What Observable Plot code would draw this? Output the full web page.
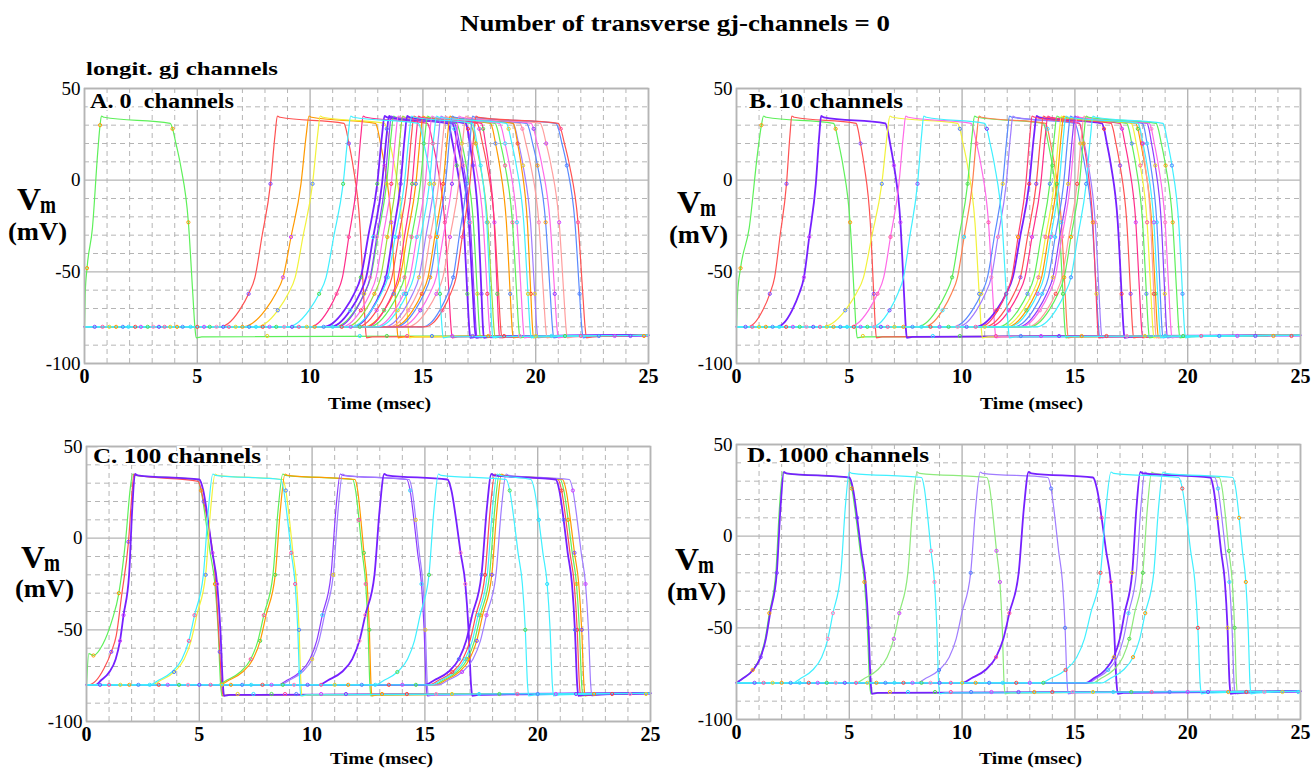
<!DOCTYPE html>
<html><head><meta charset="utf-8">
<script src="https://cdn.jsdelivr.net/npm/d3@7"></script>
<script src="https://cdn.jsdelivr.net/npm/@observablehq/plot@0.6"></script>
<style>
body{margin:0;background:#fff;}
#wrap{position:relative;width:1312px;height:771px;overflow:hidden;background:#fff;font-family:'Liberation Serif','Times New Roman',serif;}
.panel{position:absolute;}
.panel svg{background:transparent !important;}
#overlay{position:absolute;left:0;top:0;pointer-events:none;}
</style></head><body><div id="wrap"></div>
<script>
// ---------- axes ----------
const xTicks = [0, 5, 10, 15, 20, 25];
const yTicks = [-100, -50, 0, 50];

// ---------- AP shape templates: [fraction of phase, mV] ----------
const upSlow = [[0,-80],[0.15,-78],[0.34,-71],[0.5,-62],[0.61,-53],[0.73,-31],[0.88,-2],[0.96,25],[1,35]];
const upFast = [[0,-80],[0.14,-77.5],[0.35,-73],[0.51,-66],[0.62,-56],[0.71,-42],[0.85,-20],[0.93,16],[1,35]];
const upKick = [[0,-80],[0.04,-62],[0.15,-48],[0.47,-26],[0.78,15],[0.92,30],[1,35]];
const upBump = [[0,-80],[0.05,-63],[0.15,-64],[0.35,-58],[0.55,-45],[0.7,-30],[0.85,0],[0.95,28],[1,35]];
const downSlow = [[0,31],[0.09,28],[0.22,20],[0.4,8],[0.7,-23],[0.87,-62],[0.95,-80],[1,-86]];
const downFast = [[0,32],[0.16,26],[0.35,10],[0.53,-8],[0.72,-25],[0.85,-50],[0.95,-80],[1,-86]];

// ---------- traces: [foot start, peak, plateau end, end (ms), colour, upstroke kind] ----------
const tracesA = [
  [0, 0.75, 3.8, 4.95, "green", "k"],
  [6.0, 8.55, 11.5, 12.5, "red", "s"],
  [7.0, 9.95, 12.9, 13.9, "orange", "s"],
  [7.6, 10.45, 13.3, 14.4, "yellow", "s"],
  [10.0, 12.35, 15.2, 16.3, "pink", "s"],
  [10.6, 13.3, 16.1, 17.1, "purple", "s"],
  [10.9, 13.5, 16.3, 17.35, "purple", "s"],
  [11.1, 13.7, 16.5, 17.55, "green", "s"],
  [11.2, 13.6, 16.4, 17.4, "violet", "s"],
  [11.4, 13.9, 16.9, 18.0, "magenta", "s"],
  [11.6, 14.1, 17.1, 18.2, "lime", "s"],
  [11.9, 14.3, 16.9, 17.7, "purple", "s"],
  [12.1, 14.6, 17.4, 18.5, "red", "s"],
  [12.4, 15.0, 18.0, 19.0, "orange", "s"],
  [12.6, 15.2, 18.2, 19.3, "green", "s"],
  [12.5, 14.8, 17.6, 18.4, "pink", "s"],
  [12.9, 15.4, 18.4, 19.5, "magenta", "s"],
  [13.3, 15.8, 19.0, 20.1, "lilac", "s"],
  [13.5, 16.0, 19.3, 20.5, "salmon", "s"],
  [13.7, 16.2, 19.0, 19.9, "orange", "s"],
  [13.8, 16.3, 19.6, 20.8, "blue", "s"],
  [14.0, 16.6, 19.8, 21.0, "magenta", "s"],
  [14.3, 16.9, 20.2, 21.4, "salmon", "s"],
  [15.0, 17.2, 20.9, 22.1, "blue", "s"],
  [15.1, 17.35, 21.0, 22.25, "red", "s"],
  [9.0, 11.8, 14.8, 15.9, "cyan", "s"],
  [11.8, 14.5, 17.2, 18.1, "cyan", "s"],
  [13.0, 15.6, 18.7, 19.8, "cyan", "s"]
];
const tracesB = [
  [0, 1.2, 4.3, 5.35, "green", "k"],
  [0.5, 2.45, 5.3, 6.2, "red", "s"],
  [1.8, 3.75, 6.6, 7.55, "purple", "s"],
  [3.8, 6.8, 9.8, 10.9, "yellow", "s"],
  [5.0, 7.5, 10.4, 11.5, "magenta", "s"],
  [8.0, 10.55, 13.6, 14.6, "green", "s"],
  [8.3, 10.75, 13.7, 14.7, "coral", "s"],
  [9.6, 12.1, 15.0, 16.1, "blue", "s"],
  [9.8, 12.25, 15.2, 16.2, "lilac", "s"],
  [10.6, 13.3, 16.2, 17.2, "purple", "s"],
  [10.8, 13.1, 15.2, 16.05, "rose", "s"],
  [11.0, 13.6, 16.6, 17.6, "red", "s"],
  [11.2, 13.8, 17.0, 18.0, "pink", "s"],
  [11.6, 14.2, 17.3, 18.3, "green", "s"],
  [11.8, 14.4, 17.5, 18.5, "yellow", "s"],
  [12.0, 14.5, 17.7, 18.7, "orange", "s"],
  [12.3, 14.8, 18.0, 18.9, "blue", "s"],
  [12.5, 15.0, 18.2, 19.1, "violet", "s"],
  [12.6, 15.1, 18.3, 19.3, "magenta", "s"],
  [12.9, 15.4, 17.8, 18.6, "salmon", "s"],
  [13.0, 15.5, 18.6, 19.65, "green", "s"],
  [6.0, 8.3, 11.0, 12.1, "cyan", "s"],
  [12.1, 14.6, 17.8, 18.8, "cyan", "s"],
  [13.3, 15.8, 18.9, 19.9, "cyan", "s"]
];
const tracesC = [
  [0, 2.05, 4.9, 6.0, "green", "b"],
  [0.1, 2.1, 4.95, 6.05, "red", "s"],
  [0.4, 2.15, 5.0, 6.1, "purple", "f"],
  [2.9, 5.7, 8.7, 9.55, "yellow", "f"],
  [5.8, 8.7, 11.8, 12.6, "green", "f"],
  [5.9, 8.8, 11.9, 12.65, "orange", "f"],
  [8.5, 11.25, 14.2, 15.1, "violet", "f"],
  [8.6, 11.35, 14.3, 15.15, "lilac", "f"],
  [10.3, 13.2, 16.0, 17.1, "purple", "f"],
  [15.2, 18.1, 20.9, 21.9, "red", "f"],
  [15.4, 18.3, 21.0, 22.0, "green", "f"],
  [15.5, 18.4, 21.1, 22.1, "orange", "f"],
  [15.6, 18.6, 21.4, 22.4, "lilac", "f"],
  [15.0, 17.95, 20.8, 21.8, "purple", "f"],
  [2.8, 5.6, 8.6, 9.5, "cyan", "f"],
  [12.8, 15.6, 18.6, 19.6, "cyan", "f"],
  [15.3, 18.2, 19.7, 20.7, "cyan", "f"]
];
const tracesD = [
  [0, 2.05, 4.95, 5.95, "green", "f"],
  [0, 2.1, 5.0, 6.0, "purple", "f"],
  [5.3, 8.0, 11.1, 11.9, "palegreen", "f"],
  [8.0, 10.8, 13.8, 14.7, "lilac", "f"],
  [10.0, 12.95, 15.8, 16.9, "purple", "f"],
  [15.8, 18.4, 21.4, 22.2, "palegreen", "f"],
  [15.6, 18.1, 21.2, 22.1, "lilac", "f"],
  [15.5, 17.9, 21.0, 21.9, "purple", "f"],
  [2.5, 5.0, 8.2, 9.0, "cyan", "f"],
  [13.5, 16.6, 19.6, 20.6, "cyan", "f"],
  [16.2, 18.9, 22.0, 22.8, "cyan", "f"]
];

// ---------- simulation sample markers on the resting (-80) and after-AP (-85) lines ----------
const restMarksA = [0.45,0.8,1.1,1.4,1.7,1.95,2.25,2.5,2.8,3.05,3.3,3.55,3.8,4.1,4.35,4.7,5.0,5.3,5.55,5.85,6.15,6.4,6.7,7.0,7.3,7.6,7.9,8.2,8.5,8.85,9.2,9.5,9.85,10.2,10.6,11.0,11.4,11.8,12.2];
const lowMarksA = [8.1,12.2,13.4,14.3,15.4,16.3,17.2,17.9,18.6,19.3,20.0,20.7,21.3,22.0,22.8,23.5,24.2,24.8];
const restMarksB = [0.4,0.7,1.0,1.3,1.6,1.9,2.2,2.5,2.8,3.1,3.4,3.7,4.0,4.3,4.6,4.9,5.2,5.5,5.8,6.1,6.4,6.7,7.0,7.4,7.8,8.2,8.6,9.0,9.4,9.8,10.2,10.6,11.0];
const lowMarksB = [5.6,8.7,9.9,11.5,12.6,13.5,14.3,15.3,16.4,17.3,18.1,19.0,19.8,20.6,21.4,22.2,23.0,23.8,24.6];
const restMarksC = [0.6,1.0,1.5,1.9,2.3,2.8,3.2,3.6,4.1,4.5,5.0,5.5,6.0,6.4,6.9,7.3,7.8,8.2,8.7,9.2,9.8,10.4,11.0,11.6,12.2,12.8,13.4,14.0,14.6];
const lowMarksC = [6.7,7.4,8.2,8.8,9.3,10.4,11.5,13.1,14.2,15.5,16.2,17.4,18.3,19.1,20.0,20.8,21.7,22.5,23.3,24.1,24.8];
const restMarksD = [0.8,1.2,1.6,2.0,2.4,2.8,3.2,3.6,4.0,4.4,4.8,5.3,5.8,6.2,6.6,7.0,7.4,7.8,8.2,8.6,9.0,9.5,10.0,10.6,11.2,11.8,12.4,13.0,13.6];
const lowMarksD = [6.8,7.6,8.8,9.5,10.4,11.3,12.5,13.2,14.0,14.9,15.8,16.7,17.5,18.4,19.2,20.0,20.9,21.8,22.6,23.4,24.2,24.9];

const panelLabels = ["A. 0\u00a0 channels", "B. 10 channels", "C. 100 channels", "D. 1000 channels"];
const titleText = "Number of transverse gj-channels = 0";
const subTitleText = "longit. gj channels";
const xLabelText = "Time (msec)";

// ---------- styles ----------
const palette = {
  green: "#5ef05a", red: "#ff5252", orange: "#ff9a00", yellow: "#f2f23c", cyan: "#40f0ff",
  purple: "#7620ff", violet: "#8c3cff", lilac: "#a07cff", pink: "#ff2d8a", magenta: "#ff6ae8",
  salmon: "#ff9e9e", blue: "#5a8aff", lime: "#9be03a", coral: "#ff8050", rose: "#ff4070",
  palegreen: "#8eea7c"
};
const markPalette = ["#8040ff","#ff4fa0","#e8d020","#ff9900","#5080ff","#30e0ff","#ff4040","#d040ff","#50dd50","#ff80c0"];
const FONT = "'Liberation Serif', 'Times New Roman', serif";
const GRID = "#b5b5b5";

function templates(kind) {
  const up = kind === "k" ? upKick : kind === "b" ? upBump : kind === "f" ? upFast : upSlow;
  const down = kind === "s" || kind === "k" ? downSlow : downFast;
  return {up, down};
}
function buildTrace(tr) {
  const [f, u, r, e, , kind] = tr;
  const {up, down} = templates(kind);
  const pts = [];
  if (f > 0) pts.push({t: 0, v: -80});
  for (const [a, v] of up) pts.push({t: f + a * (u - f), v});
  pts.push({t: u + 0.12, v: 34.3});
  for (const [a, v] of down) pts.push({t: r + a * (e - r), v});
  pts.push({t: e + 0.25, v: -85.5});
  pts.push({t: 25, v: -84.6});
  return pts;
}

function makePanel(traces, restMarks, lowMarks) {
  const minorX = d3.range(0, 26).filter(d => d % 5 !== 0);
  const minorY = d3.range(-100, 51, 10).filter(d => d % 50 !== 0);
  const marks = [
    Plot.ruleX(minorX, {stroke: GRID, strokeWidth: 1, strokeDasharray: "5,4"}),
    Plot.ruleY(minorY, {stroke: GRID, strokeWidth: 1, strokeDasharray: "5,4"}),
    Plot.ruleX(xTicks, {stroke: GRID, strokeWidth: 1.4}),
    Plot.ruleY(yTicks, {stroke: GRID, strokeWidth: 1.4})
  ];
  const dots = [];
  restMarks.forEach((t, i) => dots.push({t, v: -80, c: markPalette[i % markPalette.length]}));
  lowMarks.forEach((t, i) => dots.push({t, v: -85, c: markPalette[(i * 3 + 2) % markPalette.length]}));
  traces.forEach((tr, i) => {
    const pts = buildTrace(tr);
    const c = palette[tr[4]];
    const w = tr[4] === "purple" ? 1.8 : 1.2;
    marks.push(Plot.line(pts, {x: "t", y: "v", stroke: c, strokeWidth: w, curve: "monotone-x"}));
    const off = tr[0] > 0 ? 1 : 0;
    const {up} = templates(tr[5]);
    const mc = markPalette[(i * 7 + 3) % markPalette.length];
    const upIdx = [2 + (i % 3), 5 + (i % 2)];
    const dnIdx = [1 + (i % 3), 4 + (i % 2)];
    upIdx.forEach(k => { const p = pts[off + k]; if (p) dots.push({t: p.t, v: p.v, c: mc}); });
    dnIdx.forEach(k => { const p = pts[off + up.length + 1 + k]; if (p) dots.push({t: p.t, v: p.v, c: mc}); });
  });
  marks.push(Plot.dot(dots, {x: "t", y: "v", r: 1.6, stroke: "c", strokeWidth: 1, fill: "none"}));
  marks.push(Plot.frame({stroke: GRID, strokeWidth: 1.6}));
  marks.push(Plot.axisX(xTicks, {tickSize: 0, tickPadding: 5, fontWeight: "bold", fontSize: 20, label: null, tickFormat: d => String(d)}));
  marks.push(Plot.axisY(yTicks, {tickSize: 0, tickPadding: 4, fontSize: 19, label: null, tickFormat: d => String(d)}));
  return Plot.plot({
    width: 656, height: 335,
    marginLeft: 84, marginRight: 8, marginTop: 8, marginBottom: 52,
    x: {domain: [0, 25]},
    y: {domain: [-100, 50]},
    color: {type: "identity"},
    style: {fontFamily: FONT, color: "#000", background: "transparent", overflow: "visible"},
    marks
  });
}

const wrap = document.getElementById("wrap");
const layout = [
  {traces: tracesA, rest: restMarksA, low: lowMarksA, left: 0, top: 80},
  {traces: tracesB, rest: restMarksB, low: lowMarksB, left: 652, top: 80},
  {traces: tracesC, rest: restMarksC, low: lowMarksC, left: 2, top: 438},
  {traces: tracesD, rest: restMarksD, low: lowMarksD, left: 652, top: 436}
];
layout.forEach(p => {
  const div = document.createElement("div");
  div.className = "panel";
  div.style.left = p.left + "px";
  div.style.top = p.top + "px";
  div.appendChild(makePanel(p.traces, p.rest, p.low));
  wrap.appendChild(div);
});

// ---------- overlay text ----------
const svg = d3.select(wrap).append("svg").attr("id", "overlay")
  .attr("width", 1312).attr("height", 771)
  .style("font-family", FONT).style("font-weight", "bold");
function txt(x, y, s, size, len, opts = {}) {
  const t = svg.append("text").attr("x", x).attr("y", y).attr("font-size", size).text(s)
    .attr("textLength", len).attr("lengthAdjust", "spacingAndGlyphs");
  if (opts.halo) t.attr("stroke", "white").attr("stroke-width", 4).attr("paint-order", "stroke");
  return t;
}
txt(460, 31, titleText, 24, 430);
txt(86, 75, subTitleText, 19, 192);
const lab = [[90, 107.5, 144], [749, 107.5, 154], [93, 463, 168], [747, 462, 182]];
panelLabels.forEach((s, i) => txt(lab[i][0], lab[i][1], s, 20, lab[i][2], {halo: true}));
const vm = [[17, 210, 8, 240], [677, 213, 669, 243], [21, 568, 15, 597], [675, 570, 667, 600]];
vm.forEach(([vx, vy, px, py]) => {
  txt(vx, vy, "V", 32, 24);
  txt(vx + 23, vy + 3, "m", 26, 16);
  txt(px, py, "(mV)", 25, 59);
});
const tl = [[328, 409], [980, 409], [330, 764], [979, 764]];
tl.forEach(([x, y]) => txt(x, y, xLabelText, 16, 103));
</script></body></html>
